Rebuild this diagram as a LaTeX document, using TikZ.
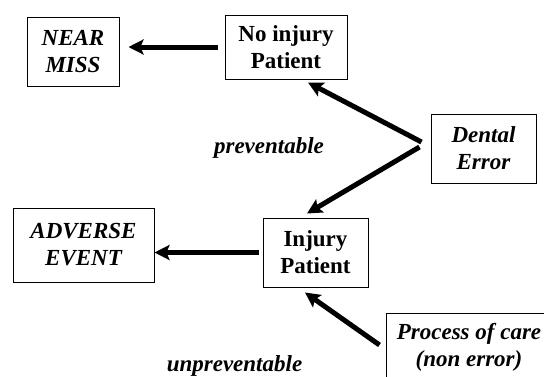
\documentclass[tikz,border=0pt]{standalone}
\usepackage{fontspec}
\setmainfont{Liberation Serif}
\usetikzlibrary{arrows.meta,calc}

\begin{document}
\begin{tikzpicture}[x=1pt,y=-1pt]
		\useasboundingbox (0,0) rectangle (544,376);
		\tikzset{BoxStyle/.style = {rectangle, draw, line width=1pt, align=center, inner sep=0pt,
				font=\fontsize{23}{27}\selectfont\bfseries},
			ItBoxStyle/.style = {BoxStyle, font=\fontsize{23}{27}\selectfont\bfseries\itshape},
			LabelStyle/.style = {inner sep=0pt, font=\fontsize{23}{27}\selectfont\bfseries\itshape},
			ArrowStyle/.style = {line width=5pt, -{Stealth[length=15pt,width=15pt,inset=3pt]}}}
		\node[ItBoxStyle, minimum width=92pt, minimum height=69pt] (NM) at (73,51.5) {NEAR\\MISS};
		\node[BoxStyle, minimum width=122pt, minimum height=64pt] (NP) at (286,47) {No injury\\Patient};
		\node[ItBoxStyle, minimum width=105pt, minimum height=69pt] (DE) at (483.5,148.5) {Dental\\Error};
		\node[ItBoxStyle, minimum width=141pt, minimum height=74pt] (AE) at (83.5,245) {ADVERSE\\EVENT};
		\node[BoxStyle, minimum width=105pt, minimum height=69pt] (IP) at (315.5,252.5) {Injury\\Patient};
		\node[ItBoxStyle, minimum width=166pt, minimum height=69pt] (PC) at (469,347.5) {Process of care\\(non error)};
		%\node[LabelStyle] at (300,200) {error};
		\node[LabelStyle] (prev) at (269,148) {preventable};
		\node[LabelStyle] (unprev) at (234.5,366) {unpreventable};
		\draw[ArrowStyle, shorten <=7pt, shorten >=9pt] (NP.west) -- (NP.west -| NM.east);
		\draw[ArrowStyle, shorten <=4pt] (IP.west) -- (IP.west -| AE.east);
		\draw[ArrowStyle] ($(DE.west)+(-9,-6.5)$) -- ($(NP.south)+(22,3)$);
		\draw[ArrowStyle] ($(DE.west)+(-11,-1.5)$) -- ($(IP.north)+(-8.5,-4)$);
		\draw[ArrowStyle] ($(PC.west)+(-6,-2.5)$) -- ($(IP.south)+(-10.5,5)$);
\end{tikzpicture}
\end{document}
